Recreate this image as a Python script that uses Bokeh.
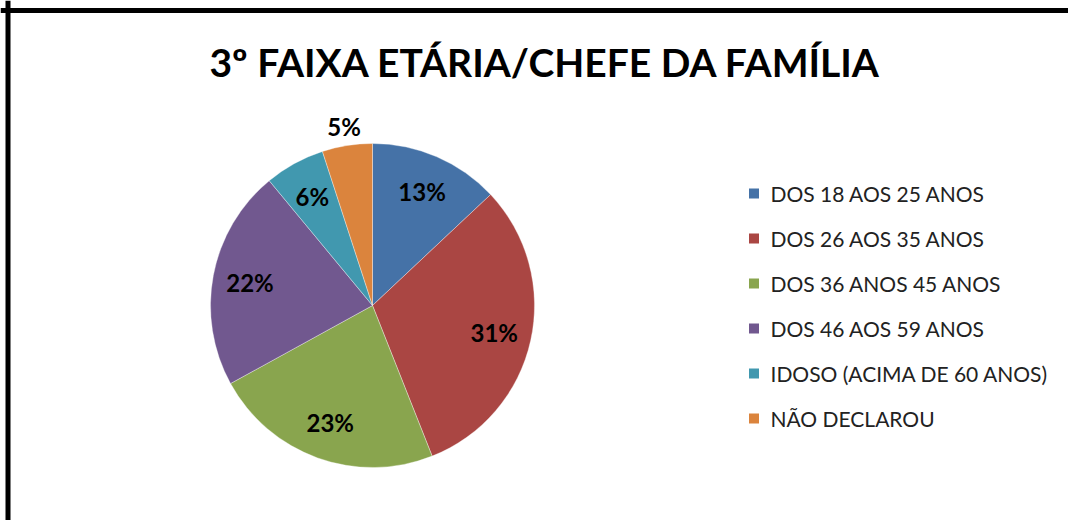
import math
from bokeh.plotting import figure
from bokeh.models import Range1d, ColumnDataSource, Span
from bokeh.core.properties import value
from bokeh.embed import file_html
from bokeh.resources import INLINE

# ---- data ----
categories = ["DOS 18 AOS 25 ANOS", "DOS 26 AOS 35 ANOS", "DOS 36 ANOS 45 ANOS",
              "DOS 46 AOS 59 ANOS", "IDOSO (ACIMA DE 60 ANOS)", "NÃO DECLAROU"]
percent = [13, 31, 23, 22, 6, 5]
colors = ["#4572A7", "#AA4643", "#89A54E", "#71588F", "#4198AF", "#DB843D"]
title_text = "3º FAIXA ETÁRIA/CHEFE DA FAMÍLIA"

W, H = 1068, 520
FONT = "Lato"

p = figure(width=W, height=H, output_backend="svg", toolbar_location=None,
           x_range=Range1d(0, W), y_range=Range1d(0, H), min_border=0)
p.axis.visible = False
p.grid.visible = False
p.outline_line_color = None
p.background_fill_color = "white"

# border (top and left)
p.add_layout(Span(location=H - 10, dimension="width", line_color="black", line_width=5))
p.add_layout(Span(location=7.5, dimension="height", line_color="black", line_width=5))

# title
p.text(x=[545], y=[H - 61], text=[title_text], text_align="center", text_baseline="middle",
       text_font=value(FONT), text_font_style="bold", text_font_size="39px", text_color="black")

# pie
cx, cy, R = 372, H - 305, 162
total = sum(percent)
starts, ends, lx, ly, labels = [], [], [], [], []
cum = 0.0
for v in percent:
    f = v / total
    a0 = math.pi / 2 - 2 * math.pi * cum
    a1 = math.pi / 2 - 2 * math.pi * (cum + f)
    starts.append(a0)
    ends.append(a1)
    mid = math.pi / 2 - 2 * math.pi * (cum + f / 2)
    r = R * 0.77 if v > 5 else R * 1.12
    lx.append(cx + r * math.cos(mid))
    ly.append(cy + r * math.sin(mid))
    labels.append(f"{v}%")
    cum += f

src = ColumnDataSource(dict(start=starts, end=ends, color=colors))
p.wedge(x=cx, y=cy, radius=R, radius_units="screen", start_angle="start", end_angle="end",
        direction="clock", fill_color="color", line_color="white", line_alpha=0.35,
        line_width=1, source=src)

p.text(x=lx, y=ly, text=labels, text_align="center", text_baseline="middle",
       text_font=value(FONT), text_font_style="bold", text_font_size="24px", text_color="black")

# legend
lgx, lgy0, step = 753.5, H - 193, 45
sq_y = [lgy0 - step * i for i in range(len(categories))]
p.rect(x=[lgx] * len(categories), y=sq_y, width=10, height=10, width_units="screen",
       height_units="screen", fill_color=colors, line_color=None)
p.text(x=[lgx + 16.5] * len(categories), y=sq_y, text=categories, text_align="left",
       text_baseline="middle", text_font=value(FONT), text_font_size="21px", text_color="#222222")

open("out.html", "w").write(file_html(p, INLINE))
